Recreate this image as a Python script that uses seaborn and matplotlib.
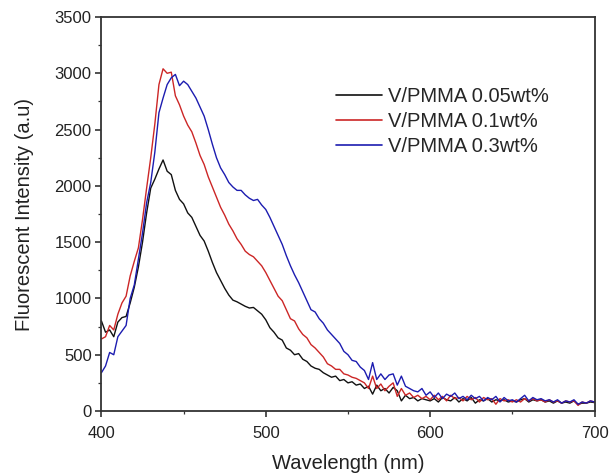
import matplotlib
matplotlib.use("Agg")
import matplotlib.pyplot as plt
from matplotlib.ticker import MultipleLocator
import seaborn as sns
import pandas as pd

wavelength = [
    400, 402.5, 405, 407.5, 410, 412.5, 415, 417.5, 420, 422.5,
    425, 427.5, 430, 432.5, 435, 437.5, 440, 442.5, 445, 447.5,
    450, 452.5, 455, 457.5, 460, 462.5, 465, 467.5, 470, 472.5,
    475, 477.5, 480, 482.5, 485, 487.5, 490, 492.5, 495, 497.5,
    500, 502.5, 505, 507.5, 510, 512.5, 515, 517.5, 520, 522.5,
    525, 527.5, 530, 532.5, 535, 537.5, 540, 542.5, 545, 547.5,
    550, 552.5, 555, 557.5, 560, 562.5, 565, 567.5, 570, 572.5,
    575, 577.5, 580, 582.5, 585, 587.5, 590, 592.5, 595, 597.5,
    600, 602.5, 605, 607.5, 610, 612.5, 615, 617.5, 620, 622.5,
    625, 627.5, 630, 632.5, 635, 637.5, 640, 642.5, 645, 647.5,
    650, 652.5, 655, 657.5, 660, 662.5, 665, 667.5, 670, 672.5,
    675, 677.5, 680, 682.5, 685, 687.5, 690, 692.5, 695, 697.5,
    700,
]

pmma_005 = [
    800, 700, 720, 660, 790, 830, 840, 960, 1100, 1280,
    1500, 1760, 1980, 2060, 2150, 2230, 2130, 2100, 1960, 1880,
    1840, 1760, 1720, 1640, 1560, 1510, 1420, 1320, 1230, 1160,
    1090, 1030, 985, 970, 950, 930, 915, 920, 890, 860,
    810, 740, 700, 650, 630, 560, 540, 500, 510, 460,
    440, 400, 380, 370, 340, 320, 300, 310, 270, 280,
    250, 260, 230, 240, 200, 220, 150, 230, 180, 200,
    160, 210, 180, 90, 140, 110, 120, 90, 110, 100,
    90, 110, 80, 120, 100, 90, 120, 80, 110, 90,
    120, 70, 100, 90, 110, 80, 100, 90, 100, 80,
    90, 80, 100, 110, 80, 100, 90, 100, 80, 90,
    70, 90, 70, 80, 70, 90, 60, 70, 70, 80,
    75,
]

pmma_01 = [
    640, 660, 760, 720, 860, 960, 1020, 1200, 1330, 1450,
    1700, 1980, 2250, 2550, 2900, 3040, 3000, 3010, 2800, 2720,
    2620, 2540, 2480, 2380, 2270, 2190, 2080, 1990, 1900, 1810,
    1740, 1660, 1600, 1530, 1480, 1420, 1390, 1370, 1330, 1290,
    1230, 1160, 1090, 1020, 980, 900, 820, 800, 730, 680,
    650, 590, 560, 520, 480, 420, 400, 370, 370, 330,
    320, 300, 290, 270, 250, 200, 310, 200, 240, 180,
    220, 250, 130, 200, 140, 160, 120, 140, 110, 130,
    100, 140, 100, 130, 90, 140, 110, 120, 90, 130,
    100, 120, 80, 120, 100, 110, 60, 110, 90, 100,
    80, 100, 80, 110, 90, 110, 90, 100, 80, 100,
    80, 90, 70, 90, 80, 90, 50, 80, 70, 90,
    80,
]

pmma_03 = [
    340, 400, 520, 500, 660, 710, 760, 1000, 1120, 1350,
    1580, 1850, 2030, 2300, 2650, 2780, 2900, 2960, 2990, 2890,
    2930, 2900, 2840, 2780, 2700, 2620, 2500, 2370, 2250, 2160,
    2100, 2030, 1990, 1960, 1960, 1920, 1890, 1870, 1880, 1830,
    1790, 1720, 1640, 1560, 1480, 1380, 1290, 1210, 1140, 1060,
    980, 900, 880, 820, 780, 720, 680, 640, 600, 530,
    500, 450, 440, 390, 360, 280, 430, 280, 330, 280,
    320, 330, 230, 310, 220, 200, 180, 170, 200, 140,
    170, 120, 160, 110, 150, 130, 160, 110, 130, 100,
    140, 110, 130, 90, 120, 100, 130, 80, 120, 90,
    100, 80, 110, 140, 90, 120, 100, 110, 90, 100,
    80, 100, 70, 90, 80, 100, 60, 80, 70, 90,
    80,
]

labels = ["V/PMMA 0.05wt%", "V/PMMA 0.1wt%", "V/PMMA 0.3wt%"]
colors = ["#111111", "#cc2626", "#1c1cb0"]

frames = []
for lab, vals in zip(labels, [pmma_005, pmma_01, pmma_03]):
    frames.append(pd.DataFrame({"Wavelength": wavelength, "Intensity": vals, "Sample": lab}))
df = pd.concat(frames, ignore_index=True)

sns.set_theme(style="ticks")
plt.rcParams["font.family"] = ["Liberation Sans", "DejaVu Sans"]

fig = plt.figure(figsize=(6.11, 4.75), dpi=100)
ax = fig.add_axes([0.166, 0.1347, 0.807, 0.8295])

sns.lineplot(data=df, x="Wavelength", y="Intensity", hue="Sample",
             hue_order=labels, palette=colors, linewidth=1.0, ax=ax,
             estimator=None, sort=False)

ax.set_xlim(400, 700)
ax.set_ylim(0, 3500)
ax.xaxis.set_major_locator(MultipleLocator(100))
ax.xaxis.set_minor_locator(MultipleLocator(50))
ax.yaxis.set_major_locator(MultipleLocator(500))
ax.yaxis.set_minor_locator(MultipleLocator(250))
ax.tick_params(which="major", direction="out", length=4.5, width=1.1,
               labelsize=12, colors="#222222", pad=2.5)
ax.tick_params(axis="x", which="major", pad=6)
ax.tick_params(which="minor", direction="out", length=2.5, width=0.9, colors="#333333")
for s in ax.spines.values():
    s.set_visible(True)
    s.set_linewidth(1.3)
    s.set_color("#333333")

ax.set_xlabel("Wavelength (nm)", fontsize=14.5, color="#222222", labelpad=10)
ax.set_ylabel("Fluorescent Intensity (a.u)", fontsize=14.5, color="#222222", labelpad=14.5)

leg = ax.legend(loc="upper left", bbox_to_anchor=(0.476, 0.822), frameon=False,
                fontsize=14.5, handlelength=2.3, handletextpad=0.3,
                labelspacing=0.3, borderpad=0, borderaxespad=0)
for line in leg.get_lines():
    line.set_linewidth(1.2)

fig.savefig("out.png", dpi=100)
